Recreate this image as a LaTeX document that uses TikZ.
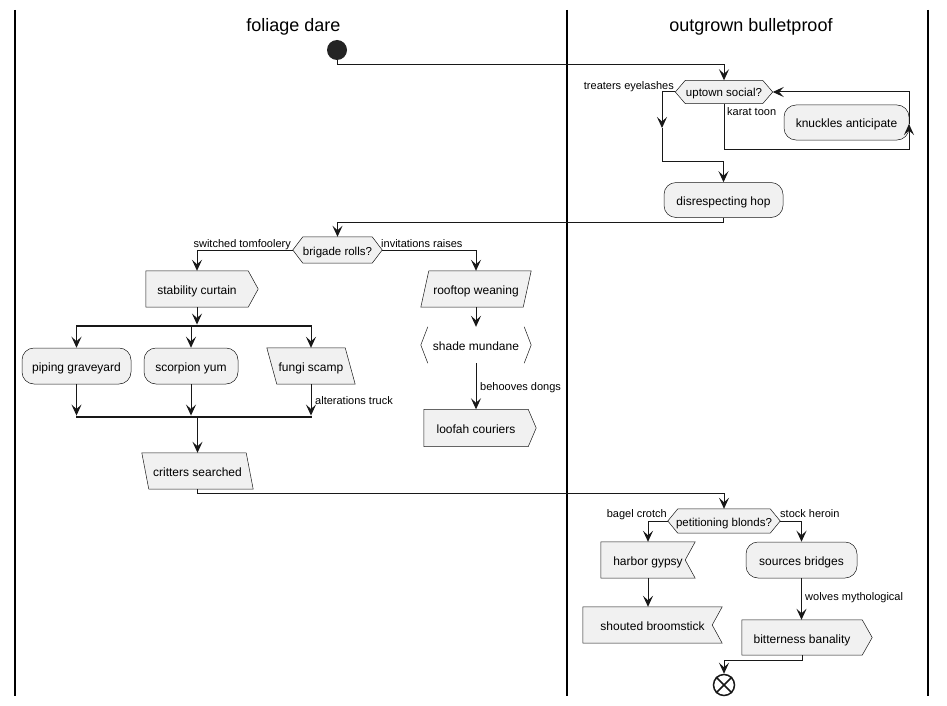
\documentclass[tikz,border=0pt]{standalone}
\usepackage{fontspec}
\setmainfont{Liberation Sans}
\usetikzlibrary{arrows.meta,backgrounds,calc}
\definecolor{bg}{HTML}{F1F1F1}
\definecolor{lc}{HTML}{181818}
\newcommand\shpHex[2]{\draw[bx] (#1.west) -- ([xshift=#2]#1.north west) -- ([xshift=-#2]#1.north east) -- (#1.east) -- ([xshift=-#2]#1.south east) -- ([xshift=#2]#1.south west) -- cycle;}
\newcommand\shpPent[2]{\draw[bx] (#1.north west) -- (#1.north east) -- ([xshift=#2]#1.east) -- (#1.south east) -- (#1.south west) -- cycle;}
\newcommand\shpNotch[2]{\draw[bx] (#1.north west) -- (#1.north east) -- ([xshift=-#2]#1.east) -- (#1.south east) -- (#1.south west) -- cycle;}
\newcommand\shpSlashR[2]{\draw[bx] ([xshift=#2]#1.north west) -- (#1.north east) -- ([xshift=-#2]#1.south east) -- (#1.south west) -- cycle;}
\newcommand\shpSlashL[2]{\draw[bx] (#1.north west) -- ([xshift=-#2]#1.north east) -- (#1.south east) -- ([xshift=#2]#1.south west) -- cycle;}
\newcommand\shpBrack[2]{\draw[lc,line width=.5pt] ([xshift=#2]#1.north west) -- (#1.west) -- ([xshift=#2]#1.south west);
  \draw[lc,line width=.5pt] ([xshift=-#2]#1.north east) -- (#1.east) -- ([xshift=-#2]#1.south east);}
\begin{document}
\begin{tikzpicture}[x=1pt,y=-1pt,
  txt/.style={inner sep=0pt, font=\fontsize{12}{14}\selectfont, minimum height=36, text height=11, text depth=0, text=black},
  rbox/.style={txt, draw=lc, fill=bg, line width=.5pt, rounded corners=12, minimum width=#1},
  sbox/.style={txt, minimum width=#1},
  dec/.style={inner sep=0pt, font=\fontsize{11.5}{13}\selectfont, text height=10, text depth=0, minimum height=24},
  bx/.style={draw=lc, fill=bg, line width=.5pt},
  lbl/.style={inner sep=0pt, font=\fontsize{11}{13}\selectfont},
  title/.style={inner sep=0pt, font=\fontsize{18}{21}\selectfont, anchor=base},
  flow/.style={draw=lc, line width=1pt, -{Stealth[length=11pt,width=10pt,inset=4.5pt]}},
  bar/.style={fill=lc, inner sep=0pt, minimum height=2.5, minimum width=#1},
  lane/.style={line width=1.5pt, black}]
\useasboundingbox (0,0) rectangle (947,706);

% lanes
\draw[lane] (15,10) -- (15,696);
\draw[lane] (567,10) -- (567,696);
\draw[lane] (928,10) -- (928,696);
\node[title] (t1) at (293.5,32) {foliage dare};
\node[title] (t2) at (751,32) {outgrown bulletproof};

% nodes
\node[fill=lc!95!white, circle, minimum size=20, inner sep=0pt] (start) at (337,50) {};
\node[dec, minimum width=97, minimum height=23] (d1) at (724,92) {uptown social?};
\node[rbox=125, minimum height=35] (knk) at (846.5,122.5) {knuckles anticipate};
\node[rbox=119, minimum height=35] (dhop) at (723.5,200) {disrespecting hop};
\node[dec, minimum width=89, minimum height=26] (d2) at (337.5,250) {brigade rolls?};
\node[sbox=102] (stab) at (197,289) {stability curtain};
\node[sbox=110] (roof) at (476,289) {rooftop weaning};
\node[sbox=110] (shade) at (476,345) {shade mundane};
\node[sbox=104, minimum height=37] (loof) at (476,428) {loofah couriers};
\node[bar=236] (fork) at (194,326) {};
\node[rbox=109] (pipe) at (76.5,366) {piping graveyard};
\node[rbox=94] (scorp) at (191,366) {scorpion yum};
\node[sbox=88] (fungi) at (311,366) {fungi scamp};
\node[bar=236] (join) at (194,417) {};
\node[sbox=111] (crit) at (197.5,471) {critters searched};
\node[dec, minimum width=112, minimum height=24] (d3) at (724,521) {petitioning blonds?};
\node[sbox=94] (harb) at (648,560) {harbor gypsy};
\node[sbox=139] (shout) at (652.5,625) {shouted broomstick};
\node[rbox=111] (srcb) at (801.5,560) {sources bridges};
\node[sbox=120, minimum height=35] (bitt) at (802,637.5) {bitterness banality};
\node[circle, draw=lc, line width=1.5pt, minimum size=21, inner sep=0pt, fill=white] (endc) at (724,685) {};
\draw[lc, line width=1.5pt] (endc.north west) -- (endc.south east);
\draw[lc, line width=1.5pt] (endc.north east) -- (endc.south west);

% outlines behind the texts
\begin{pgfonlayer}{background}
\fill[white] (0,0) rectangle (947,706);
\shpHex{d1}{10}
\shpHex{d2}{10}
\shpHex{d3}{10}
\shpPent{stab}{10}
\shpPent{loof}{8}
\shpPent{bitt}{10}
\shpSlashR{roof}{8}
\shpBrack{shade}{7}
\shpSlashL{fungi}{10}
\shpSlashL{crit}{7}
\shpNotch{harb}{10}
\shpNotch{shout}{10}
\end{pgfonlayer}

% labels
\node[lbl, anchor=base east] (l1) at (674,90) {treaters eyelashes};
\node[lbl, anchor=base west] (l2) at (727,116) {karat toon};
\node[lbl, anchor=base east] (l3) at (291,247) {switched tomfoolery};
\node[lbl, anchor=base west] (l4) at (381,247) {invitations raises};
\node[lbl, anchor=base west] (l5) at (480,390) {behooves dongs};
\node[lbl, anchor=base west] (l6) at (315,404) {alterations truck};
\node[lbl, anchor=base east] (l7) at (667,517) {bagel crotch};
\node[lbl, anchor=base west] (l8) at (780,517) {stock heroin};
\node[lbl, anchor=base west] (l9) at (805,600) {wolves mythological};

% connectors
\coordinate (a1) at (662,128);
\coordinate (a2) at (909,124);
\draw[flow] (start.south) |- (d1.north |- 0,65) -- (d1.north);
\draw[flow] (d1.west) -| (a1);
\draw[flow] (a1) |- (dhop.north |- 0,161) -- (dhop.north);
\draw[flow] (d1.south) |- (a2 |- 0,149) -- (a2);
\draw[flow] (a2) |- (d1.east);
\draw[flow] (dhop.south) |- (d2.north |- 0,222) -- (d2.north);
\draw[flow] (d2.west) -| (stab.north);
\draw[flow] (d2.east) -| (roof.north);
\draw[flow] (roof.south) -- (shade.north);
\draw[flow] (shade.south) -- (loof.north);
\draw[flow] (stab.south) -- (stab.south |- fork.north);
\draw[flow] (pipe.north |- fork.south) -- (pipe.north);
\draw[flow] (scorp.north |- fork.south) -- (scorp.north);
\draw[flow] (fungi.north |- fork.south) -- (fungi.north);
\draw[flow] (pipe.south) -- (pipe.south |- join.north);
\draw[flow] (scorp.south) -- (scorp.south |- join.north);
\draw[flow] (fungi.south) -- (fungi.south |- join.north);
\draw[flow] (crit.north |- join.south) -- (crit.north);
\draw[flow] (crit.south) |- (d3.north |- 0,493) -- (d3.north);
\draw[flow] (d3.west) -| (harb.north);
\draw[flow] (d3.east) -| (srcb.north);
\draw[flow] (harb.south) -- (harb.south |- shout.north);
\draw[flow] (srcb.south) -- (srcb.south |- bitt.north);
\draw[flow] (bitt.south) |- (endc.north |- 0,660) -- (endc.north);
\end{tikzpicture}
\end{document}
